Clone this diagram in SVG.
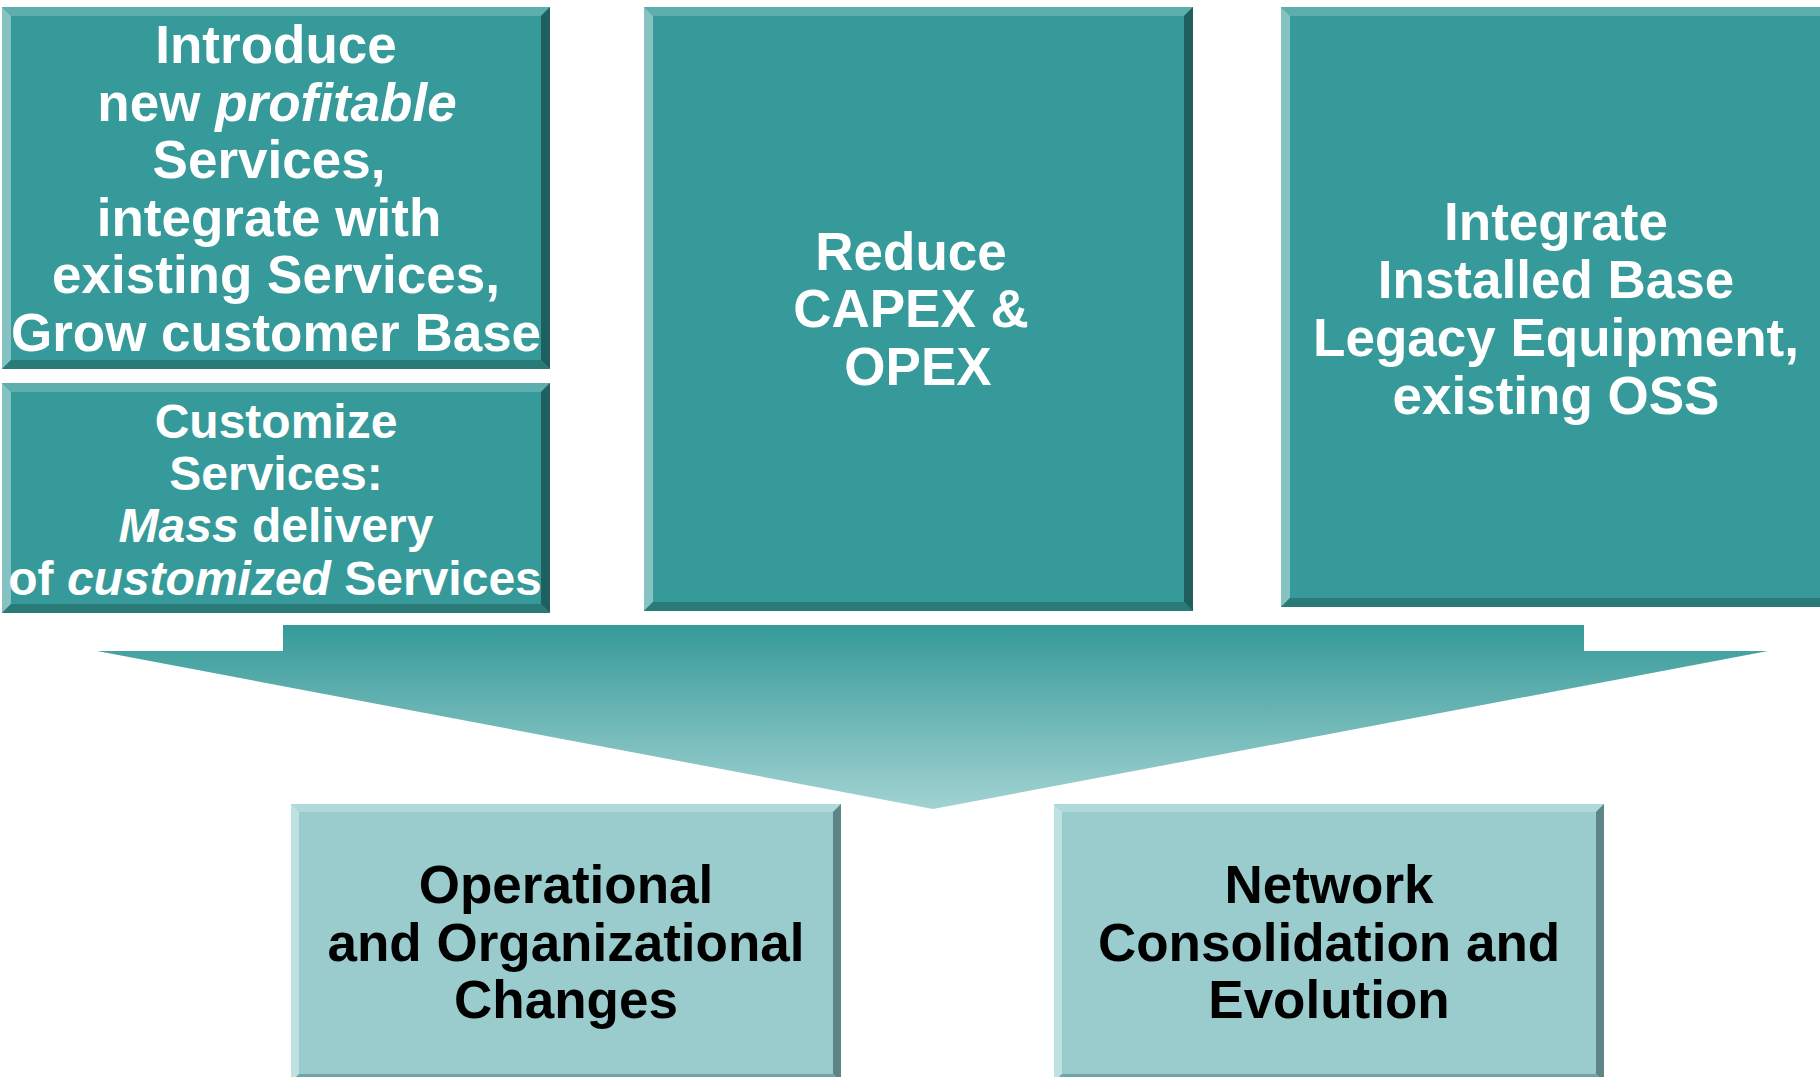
<svg xmlns="http://www.w3.org/2000/svg" width="1820" height="1077" viewBox="0 0 1820 1077">
  <defs>
    <linearGradient id="arrowFill" gradientUnits="userSpaceOnUse" x1="0" y1="625" x2="0" y2="809">
      <stop offset="0" stop-color="#359A99"/>
      <stop offset="1" stop-color="#A2D2D2"/>
    </linearGradient>
    <style>
      .face { fill: #359A99; }
      .bt { fill: #5EAEAD; }
      .bl { fill: #86C2C1; }
      .br { fill: #1F5F5E; }
      .bb { fill: #2A7A78; }
      .lface { fill: #9ACCCD; }
      .lbt { fill: #B0DADA; }
      .lbl { fill: #BEE2E2; }
      .lbr { fill: #5E8585; }
      .lbb { fill: #72A4A4; }
      .w53 { font-family: "Liberation Sans", Arial, sans-serif; font-weight: bold; font-size: 53px; fill: #FFFFFF; text-anchor: middle; }
      .w48 { font-family: "Liberation Sans", Arial, sans-serif; font-weight: bold; font-size: 48px; fill: #FFFFFF; text-anchor: middle; }
      .k53 { font-family: "Liberation Sans", Arial, sans-serif; font-weight: bold; font-size: 53px; fill: #000000; text-anchor: middle; }
      .it { font-style: italic; }
    </style>
  </defs>

  <rect width="1820" height="1077" fill="#FFFFFF"/>

  <!-- Downward arrow merging the goals -->
  <g id="connectors">
    <polygon points="283,625 1584,625 1584,651 1768,651 933,809 97,651 283,651" fill="url(#arrowFill)"/>
  </g>

  <!-- Goal: new services -->
  <g id="node-introduce">
    <rect class="face" x="2" y="7" width="548" height="362"/>
    <polygon class="bt" points="2,7 550,7 541,16 11,16"/>
    <polygon class="bl" points="2,7 11,16 11,360 2,369"/>
    <polygon class="br" points="550,7 550,369 541,360 541,16"/>
    <polygon class="bb" points="2,369 11,360 541,360 550,369"/>
    <text class="w53" x="276" y="63">Introduce</text>
    <text class="w53" x="277" y="120.6">new <tspan class="it">profitable</tspan></text>
    <text class="w53" x="269" y="178.2">Services,</text>
    <text class="w53" x="269" y="235.8">integrate with</text>
    <text class="w53" x="276" y="293.4">existing Services,</text>
    <text class="w53" x="276" y="351">Grow customer Base</text>
  </g>

  <!-- Goal: customized services -->
  <g id="node-customize">
    <rect class="face" x="2" y="383" width="548" height="230"/>
    <polygon class="bt" points="2,383 550,383 541,392 11,392"/>
    <polygon class="bl" points="2,383 11,392 11,604 2,613"/>
    <polygon class="br" points="550,383 550,613 541,604 541,392"/>
    <polygon class="bb" points="2,613 11,604 541,604 550,613"/>
    <text class="w48" x="276" y="438">Customize</text>
    <text class="w48" x="276" y="490">Services:</text>
    <text class="w48" x="276" y="542"><tspan class="it">Mass</tspan> delivery</text>
    <text class="w48" x="275" y="595">of <tspan class="it">customized</tspan> Services</text>
  </g>

  <!-- Goal: cost reduction -->
  <g id="node-reduce">
    <rect class="face" x="644" y="7" width="549" height="604"/>
    <polygon class="bt" points="644,7 1193,7 1184,16 653,16"/>
    <polygon class="bl" points="644,7 653,16 653,602 644,611"/>
    <polygon class="br" points="1193,7 1193,611 1184,602 1184,16"/>
    <polygon class="bb" points="644,611 653,602 1184,602 1193,611"/>
    <text class="w53" x="911" y="270">Reduce</text>
    <text class="w53" x="911" y="327">CAPEX &amp;</text>
    <text class="w53" x="918" y="385">OPEX</text>
  </g>

  <!-- Goal: legacy integration -->
  <g id="node-integrate">
    <rect class="face" x="1281" y="7" width="549" height="600"/>
    <polygon class="bt" points="1281,7 1830,7 1821,16 1290,16"/>
    <polygon class="bl" points="1281,7 1290,16 1290,598 1281,607"/>
    <polygon class="br" points="1830,7 1830,607 1821,598 1821,16"/>
    <polygon class="bb" points="1281,607 1290,598 1821,598 1830,607"/>
    <text class="w53" x="1556" y="240">Integrate</text>
    <text class="w53" x="1556" y="298">Installed Base</text>
    <text class="w53" x="1556" y="356">Legacy Equipment,</text>
    <text class="w53" x="1556" y="414">existing OSS</text>
  </g>

  <!-- Outcome: operational changes -->
  <g id="node-operational">
    <rect class="lface" x="291" y="804" width="550" height="278"/>
    <polygon class="lbt" points="291,804 841,804 833,812 299,812"/>
    <polygon class="lbl" points="291,804 299,812 299,1074 291,1082"/>
    <polygon class="lbr" points="841,804 841,1082 833,1074 833,812"/>
    <polygon class="lbb" points="291,1082 299,1074 833,1074 841,1082"/>
    <text class="k53" x="566" y="903">Operational</text>
    <text class="k53" x="566" y="960.5">and Organizational</text>
    <text class="k53" x="566" y="1018">Changes</text>
  </g>

  <!-- Outcome: network evolution -->
  <g id="node-network">
    <rect class="lface" x="1054" y="804" width="550" height="278"/>
    <polygon class="lbt" points="1054,804 1604,804 1596,812 1062,812"/>
    <polygon class="lbl" points="1054,804 1062,812 1062,1074 1054,1082"/>
    <polygon class="lbr" points="1604,804 1604,1082 1596,1074 1596,812"/>
    <polygon class="lbb" points="1054,1082 1062,1074 1596,1074 1604,1082"/>
    <text class="k53" x="1329" y="903">Network</text>
    <text class="k53" x="1329" y="960.5">Consolidation and</text>
    <text class="k53" x="1329" y="1018">Evolution</text>
  </g>
</svg>
